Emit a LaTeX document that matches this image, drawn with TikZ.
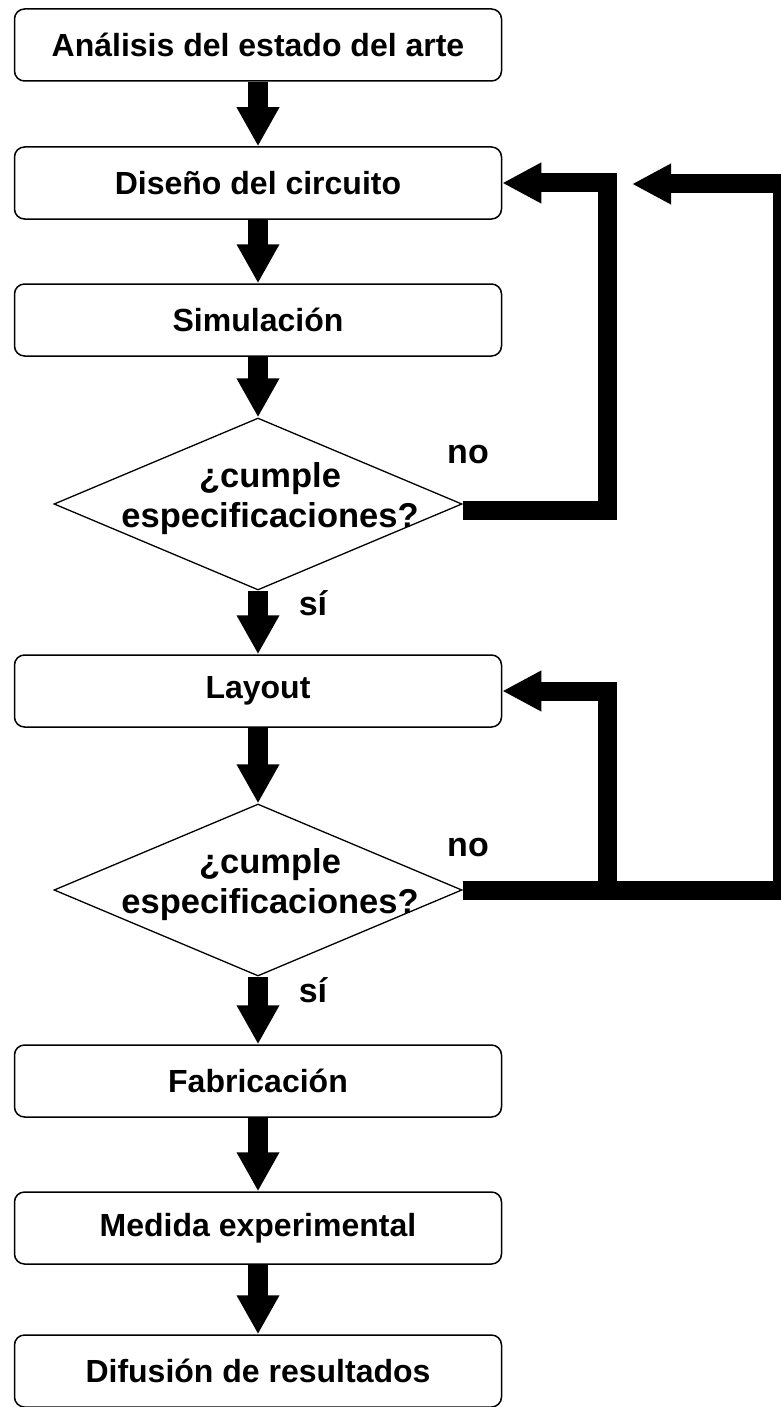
\documentclass[tikz,border=0pt]{standalone}
\usepackage{fontspec}
\setmainfont{Liberation Sans}
\usetikzlibrary{arrows.meta,shapes.geometric}
\begin{document}
\begin{tikzpicture}[x=1pt,y=-1pt,
  box/.style={draw, line width=1.5pt, rounded corners=10pt, minimum width=487pt, minimum height=72pt, inner sep=0pt, font=\fontsize{32}{38}\selectfont\bfseries},
  dia/.style={draw, diamond, line width=1.3pt, minimum width=408pt, minimum height=172pt, inner sep=0pt},
  dtext/.style={font=\fontsize{34.5}{40}\selectfont\bfseries, align=center, inner sep=0pt},
  lbl/.style={font=\fontsize{34}{40}\selectfont\bfseries, inner sep=0pt},
  flow/.style={line width=20pt, -{Triangle[width=40pt,length=39pt]}},
  back/.style={line width=19pt, line join=miter, miter limit=10, -{Triangle[width=38pt,length=39pt]}},
]
\useasboundingbox (0,0) rectangle (781,1407);
\fill[white] (0,0) rectangle (781,1407);

\node[box] (b1) at (258,45) {Análisis del estado del arte};
\node[box] (b2) at (258,183) {Diseño del circuito};
\node[box] (b3) at (258,320) {Simulación};
\node[dia] (d1) at (258,504) {};
\node[dtext] (t1) at (270,499) {¿cumple\\especificaciones?};
\node[box] (b4) at (258,691) {Layout};
\node[dia] (d2) at (258,890) {};
\node[dtext] (t2) at (270,885) {¿cumple\\especificaciones?};
\node[box] (b5) at (258,1081) {Fabricación};
\node[box] (b6) at (258,1228) {Medida experimental};
\node[box] (b7) at (258,1371) {Difusión de resultados};

\node[lbl] (no1) at (468,455) {no};
\node[lbl] (si1) at (313,603) {sí};
\node[lbl] (no2) at (468,847) {no};
\node[lbl] (si2) at (313,990) {sí};

\draw[flow] (b1.south) -- (b2.north);
\draw[flow] (b2.south) -- (b3.north);
\draw[flow] (b3.south) -- (d1.north);
\draw[flow] (d1.south) -- (b4.north);
\draw[flow] (b4.south) -- (d2.north);
\draw[flow] (d2.south) -- (b5.north);
\draw[flow] (b5.south) -- (b6.north);
\draw[flow] (b6.south) -- (b7.north);

\coordinate (ret) at (632,184);
\draw[back] ([yshift=-6pt]d1.east) -- ++(145,0) |- (b2.east);
\draw[back] (d2.east) -- ++(320,0) |- (ret);
\draw[back] ([xshift=145pt]d2.east) |- (b4.east);
\end{tikzpicture}
\end{document}
